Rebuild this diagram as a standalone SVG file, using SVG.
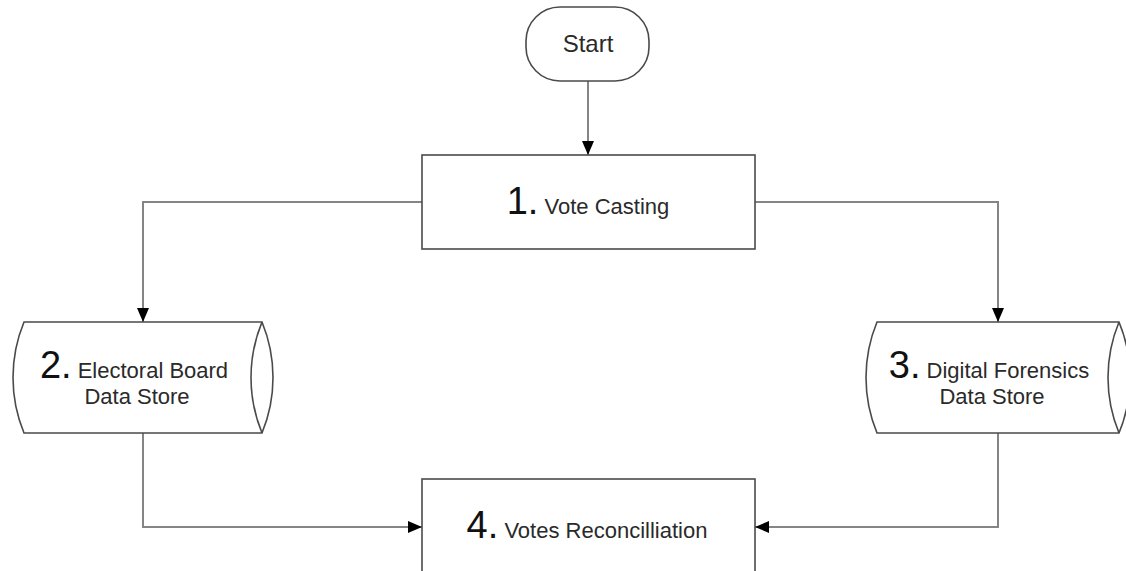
<svg xmlns="http://www.w3.org/2000/svg" width="1126" height="571" viewBox="0 0 1126 571">
  <style>
    .shape { fill: #ffffff; stroke: #4a4a4a; stroke-width: 1.6; }
    .edge { fill: none; stroke: #858585; stroke-width: 2; }
    .label { font-family: "Liberation Sans", Arial, sans-serif; fill: #2a2a2a; text-anchor: middle; }
    .num { font-size: 38px; fill: #111111; }
    .txt { font-size: 22px; }
  </style>
  <defs>
    <marker id="arrow" viewBox="0 0 14 12" refX="14" refY="6" markerWidth="14" markerHeight="12" markerUnits="userSpaceOnUse" orient="auto">
      <path d="M0,0 L14,6 L0,12 Z" fill="#000000"/>
    </marker>
  </defs>

  <rect width="1126" height="571" fill="#ffffff"/>

  <!-- connectors -->
  <g id="connectors">
    <path class="edge" d="M588,81 L588,155" marker-end="url(#arrow)"/>
    <path class="edge" d="M422,202 L143,202 L143,322" marker-end="url(#arrow)"/>
    <path class="edge" d="M755,202 L998,202 L998,322" marker-end="url(#arrow)"/>
    <path class="edge" d="M143,433 L143,527 L422,527" marker-end="url(#arrow)"/>
    <path class="edge" d="M998,433 L998,527 L755,527" marker-end="url(#arrow)"/>
  </g>

  <!-- start terminator -->
  <g id="start">
    <rect class="shape" x="526" y="7" width="123" height="74" rx="34" ry="34"/>
    <text class="label" x="588" y="52" style="font-size:24px">Start</text>
  </g>

  <!-- process 1 -->
  <g id="vote-casting">
    <rect class="shape" x="422" y="155" width="333" height="94"/>
    <text class="label" x="588" y="214"><tspan class="num">1.</tspan><tspan class="txt"> Vote Casting</tspan></text>
  </g>

  <!-- data store 2 -->
  <g id="electoral-board-store">
    <path class="shape" d="M24,322 L262,322 A145.5,145.5 0 0 1 262,433 L24,433 A145.5,145.5 0 0 1 24,322 Z"/>
    <path class="shape" fill="none" d="M262,322 A145.5,145.5 0 0 0 262,433"/>
    <text class="label" x="134" y="378"><tspan class="num">2.</tspan><tspan class="txt"> Electoral Board</tspan></text>
    <text class="label txt" x="137" y="404">Data Store</text>
  </g>

  <!-- data store 3 -->
  <g id="digital-forensics-store">
    <path class="shape" d="M877,322 L1119,322 A145.5,145.5 0 0 1 1119,433 L877,433 A145.5,145.5 0 0 1 877,322 Z"/>
    <path class="shape" fill="none" d="M1119,322 A145.5,145.5 0 0 0 1119,433"/>
    <text class="label" x="989" y="378"><tspan class="num">3.</tspan><tspan class="txt"> Digital Forensics</tspan></text>
    <text class="label txt" x="992" y="404">Data Store</text>
  </g>

  <!-- process 4 -->
  <g id="votes-reconciliation">
    <rect class="shape" x="422" y="479" width="333" height="110"/>
    <text class="label" x="587" y="538"><tspan class="num">4.</tspan><tspan class="txt"> Votes Reconcilliation</tspan></text>
  </g>
</svg>
